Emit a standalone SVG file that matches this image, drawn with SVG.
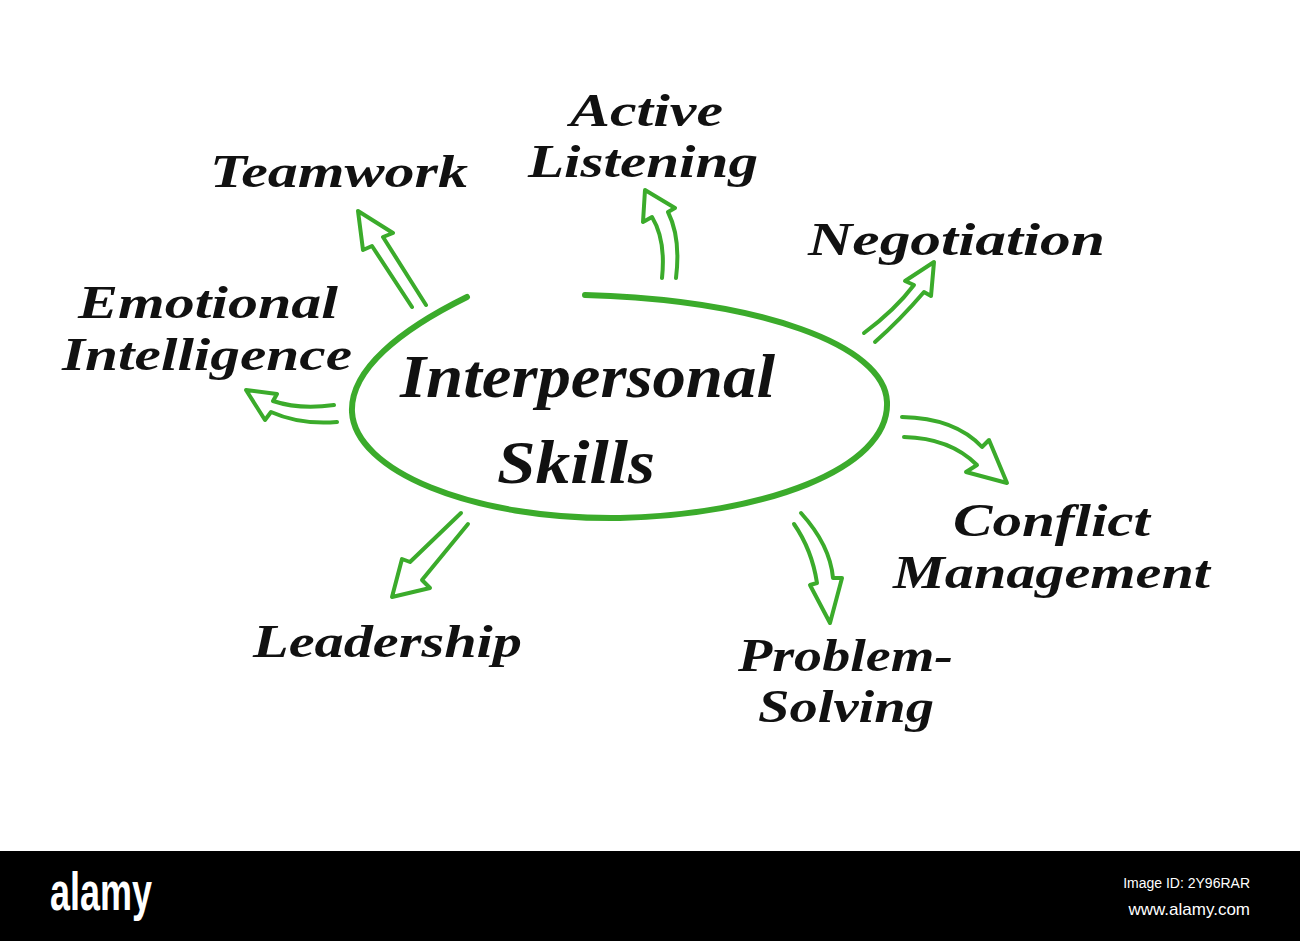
<svg xmlns="http://www.w3.org/2000/svg" width="1300" height="941" viewBox="0 0 1300 941">
<style>
.lbl{font-family:"Liberation Serif",serif;font-style:italic;font-weight:bold;font-size:46px;fill:#111}
.big{font-size:62px}
.arr{fill:none;stroke:#3bab2b;stroke-width:4;stroke-linejoin:round;stroke-linecap:round}
.ring{fill:none;stroke:#3bab2b;stroke-width:6;stroke-linecap:round}
.wm{font-family:"Liberation Sans",sans-serif;fill:#fff}
</style>
<rect width="1300" height="941" fill="#fff"/>
<g id="center">
<path class="ring" d="M467,297 C400,330 350,370 352,412 C355,470 470,520 620,518 C760,515 890,470 887,402 C885,345 760,300 585,295"/>
<text class="lbl big" x="400" y="397" textLength="375" lengthAdjust="spacingAndGlyphs">Interpersonal</text>
<text class="lbl big" x="497" y="483" textLength="158" lengthAdjust="spacingAndGlyphs">Skills</text>
</g>
<g id="connectors">
<path class="arr" d="M412,307 L372,246 L363,250 L358,211 L393,233 L383,237 L426,305"/>
<path class="arr" d="M662,278 Q666,240 652,217 L643,222 L645,190 L675,208 L668,212 Q681,238 676,278"/>
<path class="arr" d="M864,333 Q895,310 914,285 L905,281 L934,262 L931,296 L924,292 Q900,320 875,342"/>
<path class="arr" d="M902,417 Q955,418 982,447 L989,440 L1007,483 L966,472 L977,465 Q950,438 904,437"/>
<path class="arr" d="M801,513 Q830,545 833,578 L842,578 L830,623 L810,585 L817,583 Q812,550 794,524"/>
<path class="arr" d="M461,513 L410,562 L402,559 L392,597 L430,588 L422,580 L468,524"/>
<path class="arr" d="M334,405 Q300,410 273,401 L277,394 L246,390 L265,420 L271,412 Q300,425 337,422"/>
</g>
<g id="teamwork"><text class="lbl" x="210" y="187" textLength="258" lengthAdjust="spacingAndGlyphs">Teamwork</text></g>
<g id="active-listening">
<text class="lbl" x="570" y="126" textLength="153" lengthAdjust="spacingAndGlyphs">Active</text>
<text class="lbl" x="528" y="177" textLength="230" lengthAdjust="spacingAndGlyphs">Listening</text>
</g>
<g id="negotiation"><text class="lbl" x="808" y="255" textLength="297" lengthAdjust="spacingAndGlyphs">Negotiation</text></g>
<g id="emotional-intelligence">
<text class="lbl" x="78" y="318" textLength="260" lengthAdjust="spacingAndGlyphs">Emotional</text>
<text class="lbl" x="62" y="370" textLength="290" lengthAdjust="spacingAndGlyphs">Intelligence</text>
</g>
<g id="conflict-management">
<text class="lbl" x="953" y="536" textLength="197" lengthAdjust="spacingAndGlyphs">Conflict</text>
<text class="lbl" x="893" y="588" textLength="317" lengthAdjust="spacingAndGlyphs">Management</text>
</g>
<g id="leadership"><text class="lbl" x="253" y="657" textLength="269" lengthAdjust="spacingAndGlyphs">Leadership</text></g>
<g id="problem-solving">
<text class="lbl" x="738" y="671" textLength="215" lengthAdjust="spacingAndGlyphs">Problem-</text>
<text class="lbl" x="758" y="722" textLength="176" lengthAdjust="spacingAndGlyphs">Solving</text>
</g>
<g id="watermark">
<rect x="0" y="851" width="1300" height="90" fill="#000"/>
<text class="wm" x="50" y="910" font-size="54" font-weight="bold" textLength="102" lengthAdjust="spacingAndGlyphs">alamy</text>
<text class="wm" x="1250" y="888" font-size="14" text-anchor="end">Image ID: 2Y96RAR</text>
<text class="wm" x="1250" y="915" font-size="17" text-anchor="end">www.alamy.com</text>
</g>
</svg>
